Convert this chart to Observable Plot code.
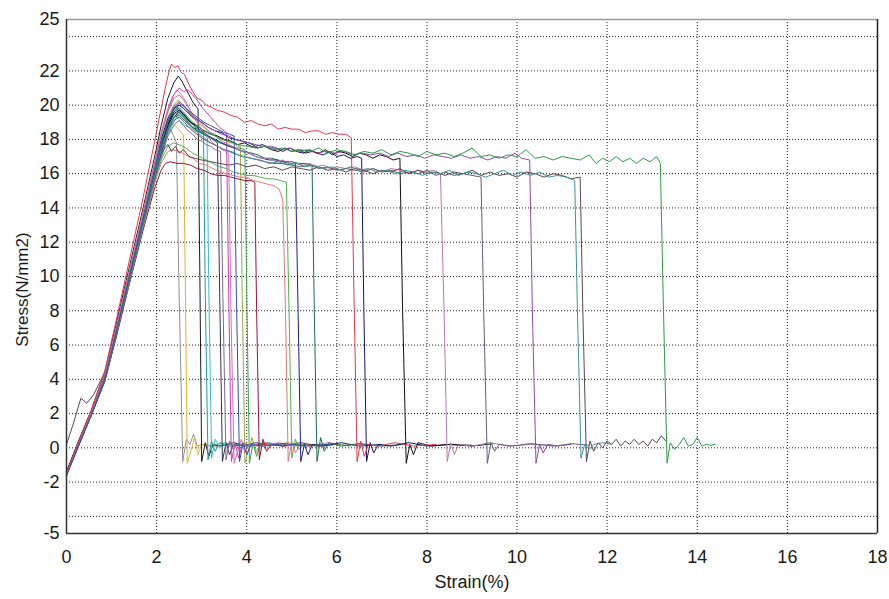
<!DOCTYPE html>
<html>
<head>
<meta charset="utf-8">
<script src="https://cdn.jsdelivr.net/npm/d3@7"></script>
<script src="https://cdn.jsdelivr.net/npm/@observablehq/plot@0.6"></script>
<style>
  html, body { margin: 0; padding: 0; background: #fff; }
  #chart { width: 889px; height: 599px; }
</style>
</head>
<body>
<div id="chart"></div>
<script>
// ---- axis data ----
const xTicks = [0, 2, 4, 6, 8, 10, 12, 14, 16, 18];
const xGrid = [2, 4, 6, 8, 10, 12, 14, 16];
const yTickLabels = [-5, -2, 0, 2, 4, 6, 8, 10, 12, 14, 16, 18, 20, 22, 25];
const yGrid = [-4, -2, 0, 2, 4, 6, 8, 10, 12, 14, 16, 18, 20, 22, 24];
const xLabel = "Strain(%)";
const yLabel = "Stress(N/mm2)";

// ---- series: [strain %, stress N/mm2] ----
const c01 = [[0,-1.5],[0.25,0.1],[0.55,2.0],[0.85,4.0],[1.1,6.7],[1.4,9.9],[1.7,13.1],[1.95,15.6],[2.1,17.0],[2.2,18.0],[2.3,18.6],[2.38,18.2],[2.44,17.8],[2.5,9],[2.58,-0.8],[2.66,0.5],[2.74,0.2],[2.82,0.8],[2.9,0.1],[3.0,0.2],[3.3,0.1],[3.6,0.2]];
const c02 = [[0,-1.5],[0.25,0.2],[0.55,2.1],[0.85,4.2],[1.1,6.8],[1.4,10.1],[1.7,13.3],[1.95,15.9],[2.1,17.3],[2.25,18.5],[2.35,19.0],[2.45,18.7],[2.55,18.4],[2.6,18.2],[2.64,9],[2.68,-0.9],[2.76,-0.2],[2.84,0.6],[2.92,-0.4],[3.0,0.2],[3.2,0.1],[3.5,0.3],[3.8,0.1]];
const c03 = [[0,-1.4],[0.25,0.3],[0.55,2.2],[0.85,4.4],[1.1,7.2],[1.4,10.6],[1.7,14.0],[1.95,16.9],[2.1,18.8],[2.25,20.4],[2.38,21.3],[2.48,21.7],[2.56,21.4],[2.64,21.0],[2.72,20.6],[2.8,20.2],[2.88,19.9],[2.92,19.8],[2.96,10],[3.0,-0.8],[3.08,0.3],[3.16,-0.5],[3.25,0.2],[3.4,0.1],[3.7,0.3],[4.0,0.1],[4.4,0.2]];
const c04 = [[0,-1.6],[0.25,0.0],[0.55,1.9],[0.85,3.9],[1.1,6.6],[1.4,9.9],[1.7,13.1],[1.95,15.8],[2.1,17.4],[2.25,18.8],[2.35,19.6],[2.42,19.9],[2.5,19.6],[2.6,19.4],[2.7,19.1],[2.8,18.9],[2.9,18.8],[3.0,18.6],[3.04,18.5],[3.08,9],[3.14,-0.7],[3.22,0.4],[3.3,-0.2],[3.4,0.3],[3.6,0.1],[3.9,0.2],[4.3,0.1],[4.7,0.25]];
const c05 = [[0,-1.5],[0.25,0.1],[0.55,2.0],[0.85,4.0],[1.1,6.5],[1.4,9.7],[1.7,12.9],[1.95,15.5],[2.1,17.0],[2.25,18.3],[2.38,19.0],[2.45,19.3],[2.55,19.0],[2.65,18.8],[2.75,18.7],[2.85,18.5],[2.95,18.4],[3.05,18.3],[3.12,18.2],[3.16,9],[3.22,-0.6],[3.3,0.5],[3.4,0.0],[3.5,0.3],[3.7,0.15],[4.0,0.25]];
const c06 = [[0,-1.6],[0.25,0.1],[0.55,1.9],[0.85,3.9],[1.1,6.5],[1.4,9.8],[1.7,13.0],[1.95,15.6],[2.1,17.2],[2.25,18.5],[2.38,19.3],[2.5,19.6],[2.6,19.3],[2.7,19.0],[2.8,18.7],[2.9,18.6],[3.0,18.4],[3.1,18.2],[3.2,18.1],[3.3,17.9],[3.35,17.8],[3.4,9],[3.46,-0.8],[3.54,0.3],[3.62,-0.4],[3.7,0.2],[3.9,0.1],[4.2,0.3],[4.6,0.15],[5.0,0.2]];
const c07 = [[0,-1.5],[0.25,0.2],[0.55,2.1],[0.85,4.1],[1.1,6.6],[1.4,9.8],[1.7,12.9],[1.95,15.4],[2.1,16.9],[2.25,18.2],[2.4,18.9],[2.5,19.1],[2.6,18.8],[2.7,18.5],[2.8,18.3],[2.9,18.0],[3.0,17.9],[3.1,17.7],[3.2,17.6],[3.3,17.4],[3.42,17.3],[3.47,9],[3.54,-0.7],[3.62,0.4],[3.7,-0.1],[3.8,0.25],[4.0,0.1],[4.3,0.2]];
const c08 = [[0,-1.5],[0.25,0.1],[0.55,2.0],[0.85,4.2],[1.1,6.9],[1.4,10.3],[1.7,13.7],[1.95,16.5],[2.1,18.3],[2.25,19.7],[2.38,20.6],[2.5,21.0],[2.6,20.8],[2.7,20.9],[2.8,20.6],[2.9,20.3],[3.0,19.9],[3.1,19.6],[3.2,19.3],[3.3,19.0],[3.4,18.7],[3.5,18.5],[3.55,18.4],[3.6,9],[3.66,-0.8],[3.74,0.3],[3.82,-0.6],[3.9,0.2],[4.1,0.1],[4.4,0.3],[4.8,0.1],[5.2,0.2]];
const c09 = [[0,-1.6],[0.25,0.0],[0.55,1.9],[0.85,4.1],[1.1,6.8],[1.4,10.1],[1.7,13.4],[1.95,16.2],[2.1,17.9],[2.25,19.3],[2.38,20.0],[2.48,20.3],[2.58,20.0],[2.68,19.7],[2.78,19.3],[2.9,19.0],[3.0,18.8],[3.1,18.6],[3.2,18.4],[3.3,18.3],[3.4,18.1],[3.5,18.0],[3.6,17.8],[3.7,17.8],[3.8,17.6],[3.86,17.6],[3.9,9],[3.96,-0.9],[4.04,-0.1],[4.12,0.6],[4.2,-0.3],[4.3,0.2],[4.5,0.1],[4.9,0.3],[5.3,0.15],[5.8,0.2]];
const c10 = [[0,-1.5],[0.25,0.1],[0.55,2.0],[0.85,4.0],[1.1,6.6],[1.4,9.9],[1.7,13.1],[1.95,15.8],[2.1,17.5],[2.25,18.8],[2.38,19.4],[2.48,19.6],[2.58,19.4],[2.7,19.1],[2.82,18.8],[2.95,18.5],[3.1,18.3],[3.25,18.0],[3.4,17.8],[3.55,17.7],[3.7,17.5],[3.85,17.5],[3.96,17.4],[4.0,9],[4.06,-0.9],[4.14,0.3],[4.22,-0.5],[4.3,0.2],[4.5,0.3],[4.8,0.1],[5.2,0.2],[5.6,0.15]];
const c11 = [[0,-1.5],[0.25,0.1],[0.55,1.9],[0.85,3.9],[1.1,6.4],[1.4,9.6],[1.7,12.7],[1.95,15.1],[2.1,16.2],[2.2,16.6],[2.3,16.7],[2.45,16.6],[2.6,16.6],[2.75,16.5],[2.9,16.3],[3.05,16.2],[3.2,16.0],[3.35,15.9],[3.5,15.9],[3.65,15.8],[3.8,15.7],[3.95,15.6],[4.1,15.6],[4.18,15.5],[4.22,8],[4.28,-0.7],[4.36,0.5],[4.44,-0.2],[4.55,0.2],[4.8,0.1],[5.2,0.3],[5.6,0.1],[6.0,0.2]];
const c12 = [[0,-1.5],[0.25,0.2],[0.55,2.0],[0.85,4.0],[1.1,6.6],[1.4,9.8],[1.7,12.9],[1.95,15.4],[2.1,16.6],[2.25,17.3],[2.35,17.4],[2.5,17.3],[2.65,17.1],[2.8,16.9],[2.95,16.6],[3.1,16.5],[3.25,16.3],[3.4,16.1],[3.55,16.0],[3.7,15.9],[3.85,15.8],[4.0,15.8],[4.15,15.6],[4.3,15.5],[4.45,15.4],[4.6,15.3],[4.72,15.1],[4.8,14.5],[4.86,8],[4.92,-0.8],[5.0,0.4],[5.08,-0.3],[5.18,0.2],[5.4,0.1],[5.8,0.3],[6.2,0.15],[6.6,0.2]];
const c13 = [[0,-1.6],[0.25,0.0],[0.55,1.9],[0.85,3.9],[1.1,6.5],[1.4,9.7],[1.7,12.9],[1.95,15.5],[2.1,16.8],[2.25,17.6],[2.38,17.8],[2.5,17.7],[2.65,17.5],[2.8,17.2],[2.95,17.0],[3.1,16.8],[3.25,16.6],[3.4,16.4],[3.55,16.3],[3.7,16.1],[3.85,16.0],[4.0,15.9],[4.15,15.9],[4.3,15.8],[4.45,15.7],[4.6,15.7],[4.75,15.6],[4.88,15.5],[4.94,8],[5.0,-0.6],[5.08,0.5],[5.16,-0.1],[5.26,0.2],[5.5,0.1],[5.9,0.25],[6.3,0.1]];
const c14 = [[0,-1.5],[0.25,0.1],[0.55,2.0],[0.85,4.2],[1.1,6.8],[1.4,10.1],[1.7,13.4],[1.95,16.1],[2.1,17.7],[2.25,18.9],[2.38,19.6],[2.48,19.8],[2.6,19.5],[2.72,19.1],[2.85,18.8],[3.0,18.5],[3.15,18.2],[3.3,18.0],[3.45,17.8],[3.6,17.6],[3.75,17.5],[3.9,17.3],[4.05,17.2],[4.2,17.0],[4.35,16.9],[4.5,16.8],[4.65,16.8],[4.8,16.7],[4.95,16.6],[5.08,16.6],[5.14,8],[5.2,-0.8],[5.28,0.2],[5.36,-0.4],[5.46,0.2],[5.7,0.1],[6.1,0.3],[6.5,0.1],[7.0,0.2]];
const c15 = [[0,-1.6],[0.25,0.1],[0.55,2.0],[0.85,4.0],[1.1,6.6],[1.4,9.9],[1.7,13.2],[1.95,15.9],[2.1,17.5],[2.25,18.7],[2.4,19.3],[2.5,19.4],[2.62,19.1],[2.75,18.8],[2.9,18.5],[3.05,18.3],[3.2,18.1],[3.35,17.9],[3.5,17.7],[3.65,17.6],[3.8,17.4],[3.95,17.3],[4.1,17.2],[4.25,17.1],[4.4,16.9],[4.55,16.9],[4.7,16.8],[4.85,16.7],[5.0,16.7],[5.15,16.6],[5.3,16.6],[5.45,16.5],[5.5,8],[5.56,-0.8],[5.64,0.6],[5.72,-0.2],[5.82,0.3],[6.1,0.1],[6.5,0.25],[7.0,0.1],[7.5,0.2]];
const c16 = [[0,-1.5],[0.25,0.2],[0.55,2.2],[0.85,4.5],[1.1,7.4],[1.4,11.0],[1.7,14.6],[1.95,17.8],[2.1,19.8],[2.2,21.1],[2.28,22.0],[2.33,22.4],[2.4,22.2],[2.47,22.3],[2.55,21.9],[2.62,21.8],[2.7,21.3],[2.8,20.8],[2.9,20.4],[3.0,20.3],[3.1,20.0],[3.2,19.9],[3.35,19.7],[3.5,19.6],[3.65,19.4],[3.8,19.3],[3.95,19.0],[4.1,19.1],[4.25,18.9],[4.4,18.8],[4.55,18.9],[4.7,18.6],[4.85,18.7],[5.0,18.6],[5.15,18.6],[5.3,18.4],[5.45,18.5],[5.6,18.5],[5.75,18.3],[5.9,18.4],[6.05,18.3],[6.2,18.3],[6.32,18.1],[6.38,9],[6.45,-0.8],[6.53,0.4],[6.61,-0.5],[6.7,0.2],[6.9,0.1],[7.3,0.3],[7.7,0.1],[8.2,0.2]];
const c17 = [[0,-1.5],[0.25,0.1],[0.55,2.1],[0.85,4.2],[1.1,6.9],[1.4,10.2],[1.7,13.5],[1.95,16.3],[2.1,18.0],[2.25,19.2],[2.38,19.8],[2.5,20.0],[2.6,19.8],[2.72,19.5],[2.85,19.2],[3.0,19.0],[3.15,18.7],[3.3,18.5],[3.45,18.4],[3.6,18.1],[3.75,18.0],[3.9,17.9],[4.05,17.8],[4.2,17.6],[4.35,17.7],[4.5,17.5],[4.65,17.5],[4.8,17.3],[4.95,17.5],[5.1,17.3],[5.25,17.2],[5.4,17.4],[5.55,17.2],[5.7,17.1],[5.85,17.3],[6.0,17.0],[6.15,17.1],[6.3,16.9],[6.45,17.0],[6.55,16.9],[6.6,8],[6.66,-0.8],[6.74,0.3],[6.82,-0.3],[6.92,0.2],[7.2,0.1],[7.6,0.3],[8.0,0.1],[8.5,0.2],[9.0,0.15]];
const c18 = [[0,-1.4],[0.25,0.2],[0.55,2.1],[0.85,4.1],[1.1,6.7],[1.4,10.0],[1.7,13.3],[1.95,16.0],[2.1,17.6],[2.25,18.8],[2.38,19.5],[2.5,19.7],[2.62,19.4],[2.75,19.0],[2.9,18.8],[3.05,18.5],[3.2,18.3],[3.35,18.2],[3.5,18.0],[3.65,17.9],[3.8,17.7],[3.95,17.8],[4.1,17.6],[4.25,17.5],[4.4,17.6],[4.55,17.4],[4.7,17.3],[4.85,17.5],[5.0,17.3],[5.15,17.4],[5.3,17.2],[5.45,17.3],[5.6,17.2],[5.75,17.4],[5.9,17.1],[6.05,17.3],[6.2,17.2],[6.35,17.0],[6.5,17.2],[6.65,17.1],[6.8,16.9],[6.95,17.1],[7.1,17.0],[7.25,16.8],[7.4,16.9],[7.46,8],[7.54,-0.9],[7.62,0.2],[7.7,-0.4],[7.8,0.3],[8.1,0.1],[8.5,0.2],[9.0,0.1],[9.5,0.25]];
const c19 = [[0,-1.5],[0.25,0.1],[0.55,2.0],[0.85,4.1],[1.1,6.8],[1.4,10.2],[1.7,13.6],[1.95,16.4],[2.1,18.2],[2.25,19.6],[2.38,20.4],[2.5,20.6],[2.6,20.3],[2.72,19.8],[2.85,19.3],[3.0,18.9],[3.15,18.5],[3.3,18.2],[3.45,17.9],[3.6,17.7],[3.75,17.5],[3.9,17.3],[4.05,17.2],[4.2,17.0],[4.35,16.9],[4.5,16.9],[4.65,16.7],[4.8,16.8],[4.95,16.6],[5.1,16.6],[5.25,16.5],[5.4,16.6],[5.55,16.4],[5.7,16.5],[5.85,16.3],[6.0,16.4],[6.2,16.3],[6.4,16.4],[6.6,16.2],[6.8,16.3],[7.0,16.1],[7.2,16.3],[7.4,16.2],[7.6,16.0],[7.8,16.2],[8.0,16.1],[8.15,16.2],[8.3,16.0],[8.38,8],[8.45,-0.8],[8.53,0.3],[8.61,-0.4],[8.7,0.2],[9.0,0.1],[9.4,0.3],[9.8,0.1],[10.3,0.2],[10.8,0.15]];
const c20 = [[0,-1.6],[0.25,0.0],[0.55,1.9],[0.85,3.9],[1.1,6.5],[1.4,9.8],[1.7,13.0],[1.95,15.7],[2.1,17.3],[2.25,18.5],[2.38,19.1],[2.5,19.3],[2.62,19.0],[2.75,18.6],[2.9,18.3],[3.05,18.0],[3.2,17.8],[3.35,17.6],[3.5,17.4],[3.65,17.3],[3.8,17.1],[3.95,17.0],[4.1,16.9],[4.25,16.8],[4.4,16.7],[4.6,16.6],[4.8,16.6],[5.0,16.5],[5.2,16.4],[5.4,16.5],[5.6,16.3],[5.8,16.4],[6.0,16.2],[6.2,16.3],[6.4,16.2],[6.6,16.1],[6.8,16.3],[7.0,16.1],[7.2,16.2],[7.4,16.0],[7.6,16.1],[7.8,16.0],[8.0,16.2],[8.2,15.9],[8.4,16.1],[8.6,15.9],[8.8,16.0],[9.0,15.9],[9.2,15.8],[9.26,8],[9.34,-0.9],[9.42,0.3],[9.5,-0.2],[9.6,0.2],[9.9,0.1],[10.3,0.25],[10.8,0.1],[11.2,0.2]];
const c21 = [[0,-1.5],[0.25,0.1],[0.55,2.0],[0.85,4.0],[1.1,6.7],[1.4,10.0],[1.7,13.3],[1.95,16.0],[2.1,17.7],[2.25,19.0],[2.38,19.9],[2.5,20.2],[2.6,20.0],[2.72,19.6],[2.85,19.3],[3.0,19.0],[3.15,18.7],[3.3,18.5],[3.45,18.3],[3.6,18.2],[3.75,18.0],[3.9,17.9],[4.05,17.8],[4.2,17.7],[4.35,17.6],[4.55,17.6],[4.75,17.4],[4.95,17.5],[5.15,17.3],[5.35,17.4],[5.55,17.2],[5.75,17.3],[5.95,17.2],[6.15,17.3],[6.35,17.1],[6.55,17.2],[6.75,17.1],[6.95,17.2],[7.15,17.0],[7.35,17.2],[7.55,17.0],[7.75,17.1],[7.95,16.9],[8.15,17.1],[8.35,17.0],[8.55,16.9],[8.75,17.1],[8.95,16.9],[9.15,17.0],[9.35,16.8],[9.55,17.0],[9.75,16.9],[9.95,17.2],[10.1,16.9],[10.28,16.8],[10.34,8],[10.42,-0.9],[10.5,0.2],[10.58,-0.3],[10.68,0.2],[10.9,0.1],[11.2,0.25],[11.6,0.15]];
const c22 = [[0,0.2],[0.15,1.4],[0.32,2.9],[0.45,2.6],[0.6,3.1],[0.85,4.4],[1.1,6.8],[1.4,10.0],[1.7,13.2],[1.9,15.5],[2.05,16.9],[2.18,17.5],[2.25,17.7],[2.33,17.3],[2.42,17.6],[2.5,17.2],[2.6,17.4],[2.72,17.0],[2.85,16.9],[3.0,16.8],[3.2,16.7],[3.4,16.6],[3.6,16.5],[3.8,16.6],[4.0,16.4],[4.2,16.5],[4.4,16.3],[4.6,16.4],[4.8,16.2],[5.0,16.4],[5.2,16.3],[5.4,16.2],[5.6,16.4],[5.8,16.2],[6.0,16.3],[6.2,16.1],[6.4,16.3],[6.6,16.2],[6.8,16.0],[7.0,16.2],[7.2,16.1],[7.4,16.3],[7.6,16.0],[7.8,16.2],[8.0,16.0],[8.2,16.1],[8.4,15.9],[8.6,16.1],[8.8,16.0],[9.0,16.2],[9.2,15.9],[9.4,16.1],[9.6,15.9],[9.8,16.0],[10.0,15.8],[10.2,16.1],[10.4,16.0],[10.6,15.8],[10.8,16.0],[11.0,15.9],[11.2,15.7],[11.4,15.8],[11.46,8],[11.54,-0.8],[11.62,0.4],[11.7,-0.2],[11.8,0.3],[11.9,0.0],[12.0,0.4],[12.1,0.2],[12.2,0.5],[12.3,0.1],[12.4,0.4],[12.5,0.2],[12.6,0.5],[12.7,0.2],[12.8,0.4],[12.9,0.1],[13.0,0.5],[13.1,0.3],[13.2,0.7],[13.3,0.4]];
const c23 = [[0,-1.6],[0.25,0.1],[0.55,2.0],[0.85,4.0],[1.1,6.6],[1.4,9.9],[1.7,13.1],[1.95,15.8],[2.1,17.4],[2.25,18.6],[2.38,19.3],[2.5,19.5],[2.62,19.2],[2.75,18.8],[2.9,18.4],[3.05,18.1],[3.2,17.8],[3.35,17.6],[3.5,17.4],[3.7,17.2],[3.9,17.0],[4.1,16.9],[4.3,16.8],[4.5,16.6],[4.7,16.7],[4.9,16.5],[5.1,16.6],[5.3,16.4],[5.5,16.5],[5.7,16.3],[5.9,16.4],[6.1,16.2],[6.3,16.4],[6.5,16.2],[6.7,16.3],[6.9,16.1],[7.1,16.2],[7.3,16.0],[7.5,16.2],[7.7,16.1],[7.9,15.9],[8.1,16.1],[8.3,16.0],[8.5,16.2],[8.7,15.9],[8.9,16.1],[9.1,16.0],[9.3,15.8],[9.5,16.0],[9.7,16.2],[9.9,15.9],[10.1,16.1],[10.3,15.9],[10.5,16.1],[10.7,15.8],[10.9,15.9],[11.1,15.8],[11.28,15.6],[11.34,8],[11.42,-0.6],[11.5,0.2],[11.6,-0.1],[11.7,0.2],[11.9,0.3],[12.1,0.2]];
const c24 = [[0,-1.5],[0.25,0.1],[0.55,2.0],[0.85,4.1],[1.1,6.8],[1.4,10.1],[1.7,13.4],[1.95,16.1],[2.1,17.8],[2.25,19.1],[2.38,19.7],[2.48,19.9],[2.6,19.6],[2.72,19.2],[2.85,18.9],[3.0,18.6],[3.15,18.4],[3.3,18.2],[3.45,18.0],[3.6,17.9],[3.8,17.7],[4.0,17.6],[4.2,17.5],[4.4,17.6],[4.6,17.4],[4.8,17.5],[5.0,17.3],[5.2,17.4],[5.4,17.3],[5.6,17.5],[5.8,17.2],[6.0,17.4],[6.2,17.3],[6.4,17.1],[6.6,17.3],[6.8,17.2],[7.0,17.4],[7.2,17.1],[7.4,17.3],[7.6,17.2],[7.8,17.0],[8.0,17.3],[8.2,17.1],[8.4,17.2],[8.6,17.0],[8.8,17.2],[9.0,17.5],[9.2,17.0],[9.4,17.1],[9.6,16.9],[9.8,17.1],[10.0,17.0],[10.2,17.4],[10.4,16.9],[10.6,17.0],[10.8,16.8],[11.0,17.0],[11.2,16.9],[11.4,16.8],[11.6,17.1],[11.75,16.6],[11.9,16.9],[12.05,16.7],[12.2,17.0],[12.35,16.7],[12.5,16.9],[12.65,16.6],[12.8,16.9],[12.95,16.7],[13.1,17.0],[13.18,16.6],[13.25,8],[13.33,-0.9],[13.4,0.3],[13.5,-0.1],[13.6,0.2],[13.7,0.6],[13.8,0.1],[13.9,0.2],[14.0,0.6],[14.1,0.1],[14.2,0.2],[14.3,0.15],[14.4,0.2]];
const c25 = [[0,-1.5],[0.25,0.2],[0.55,2.1],[0.85,4.3],[1.1,7.0],[1.4,10.4],[1.7,13.8],[1.95,16.6],[2.1,18.4],[2.25,19.8],[2.35,20.5],[2.45,20.9],[2.55,20.6],[2.65,20.2],[2.75,19.7],[2.85,19.2],[2.95,18.8],[3.05,18.4],[3.15,18.1],[3.25,17.8],[3.35,17.6],[3.45,17.4],[3.55,17.3],[3.6,17.2],[3.65,8],[3.72,-0.9],[3.8,-0.2],[3.88,0.5],[3.96,-0.3],[4.05,0.2],[4.3,0.1],[4.7,0.3],[5.1,0.1]];
const c26 = [[0,-1.6],[0.25,0.0],[0.55,1.9],[0.85,4.0],[1.1,6.7],[1.4,10.0],[1.7,13.3],[1.95,16.0],[2.1,17.7],[2.25,19.0],[2.38,19.8],[2.5,20.1],[2.62,19.9],[2.75,19.6],[2.9,19.3],[3.05,19.0],[3.2,18.8],[3.35,18.6],[3.5,18.4],[3.62,18.3],[3.72,18.2],[3.77,9],[3.84,-0.8],[3.92,0.3],[4.0,-0.4],[4.1,0.2],[4.35,0.1],[4.8,0.25],[5.3,0.1],[5.8,0.2]];

const curveColors = ["#8f8f8f","#e6b030","#1a1a1a","#1f9e9e","#3cbcc6","#34344f","#7a6a8a","#c33fb5","#9fa642","#3aa354","#9c1432","#e07a7a","#55b055","#1e1e8c","#1f6b52","#e0384a","#15156a","#111111","#b47aae","#685a7c","#8e4c9e","#5a4848","#3b9494","#2f9a46","#e06aa8","#2f4fb8"];
const curves = [c01,c02,c03,c04,c05,c06,c07,c08,c09,c10,c11,c12,c13,c14,c15,c17,c18,c19,c20,c21,c22,c23,c24,c25,c26,c16];
const curveColorOrder = [0,1,2,3,4,5,6,7,8,9,10,11,12,13,14,16,17,18,19,20,21,22,23,24,25,15];

const font = "'Liberation Sans', Arial, sans-serif";

const chart = Plot.plot({
  width: 889,
  height: 599,
  marginLeft: 66,
  marginRight: 12,
  marginTop: 19,
  marginBottom: 66,
  style: { fontFamily: font, fontSize: "18px", color: "#1a1a1a", background: "#fff" },
  x: {
    domain: [0, 18],
    ticks: xTicks,
    tickSize: 0,
    tickPadding: 17,
    tickFormat: d => String(d),
    label: null
  },
  y: {
    domain: [-5, 25],
    ticks: yTickLabels,
    tickSize: 0,
    tickPadding: 7,
    tickFormat: d => String(d),
    label: null
  },
  marks: [
    Plot.ruleY(yGrid, { stroke: "#222", strokeWidth: 1, strokeDasharray: "1,2" }),
    Plot.ruleX(xGrid, { stroke: "#222", strokeWidth: 1, strokeDasharray: "1,2" }),
    ...curves.map((pts, i) => Plot.line(pts, {
      x: d => d[0],
      y: d => d[1],
      stroke: curveColors[curveColorOrder[i]],
      strokeWidth: 1
    })),
    Plot.ruleY([25], { stroke: "#9a9a9a", strokeWidth: 1.5 }),
    Plot.ruleY([-5], { stroke: "#333", strokeWidth: 1.5 }),
    Plot.ruleX([0], { stroke: "#333", strokeWidth: 1.5 }),
    Plot.ruleX([18], { stroke: "#222", strokeWidth: 1.5 }),
    Plot.text([xLabel], { text: d => d, frameAnchor: "bottom", lineAnchor: "middle", dy: 49, fontSize: 18, fill: "#1a1a1a" }),
    Plot.text([yLabel], { text: d => d, frameAnchor: "left", textAnchor: "middle", dx: -44, dy: 13, rotate: -90, fontSize: 17, fill: "#1a1a1a" })
  ]
});
document.getElementById("chart").appendChild(chart);
</script>
</body>
</html>
